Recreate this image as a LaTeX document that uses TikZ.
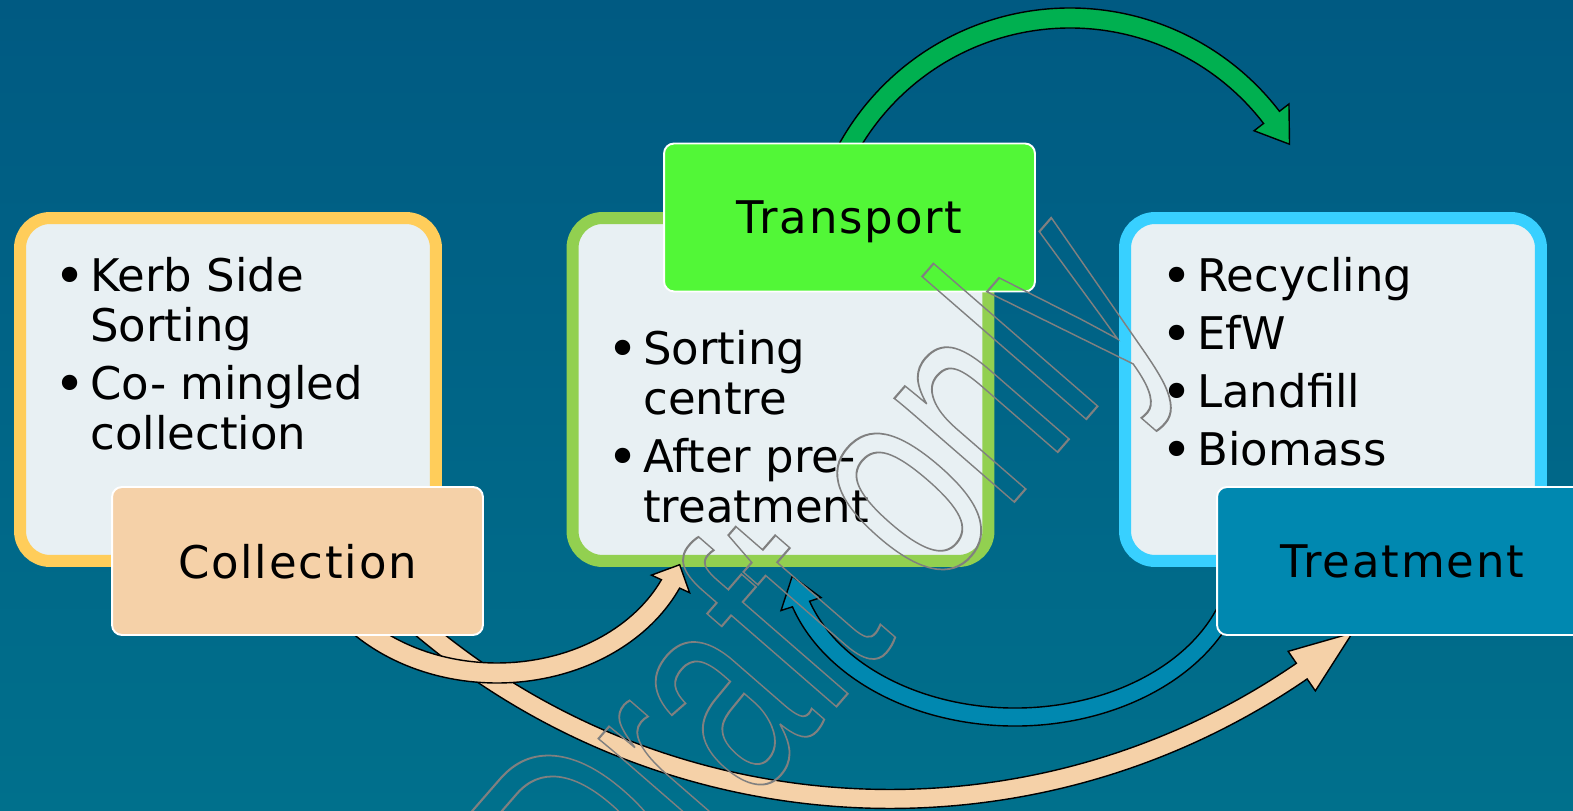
\documentclass[tikz,border=0pt]{standalone}
\usepackage{fontspec}
\setmainfont{DejaVu Sans}
\newfontfamily\tagfont[LetterSpace=4]{DejaVu Sans}
\newfontfamily\markfont{Liberation Sans}
\usetikzlibrary{positioning}

\definecolor{bgtop}{RGB}{0,90,130}
\definecolor{bgbottom}{RGB}{0,112,140}
\definecolor{panelfill}{RGB}{232,240,243}
\definecolor{collborder}{RGB}{255,205,90}
\definecolor{sortborder}{RGB}{146,208,80}
\definecolor{treatborder}{RGB}{56,208,255}
\definecolor{collfill}{RGB}{245,209,168}
\definecolor{transfill}{RGB}{82,247,55}
\definecolor{treatfill}{RGB}{0,136,176}
\definecolor{greenarrow}{RGB}{0,176,80}
\definecolor{markgray}{RGB}{128,128,128}

\newcommand{\bodysize}{\fontsize{25.6pt}{28.45pt}\selectfont}
\newcommand{\bl}{\makebox[0.56cm][l]{\hspace{-0.16cm}\raisebox{-1.6pt}{\fontsize{30pt}{30pt}\selectfont\textbullet}}}
\newcommand{\ind}{\hspace*{0.56cm}}
% style, centre, x radius, y radius, start, head base, tip, half width, head half width
\newcommand{\curvedarrow}[9]{%
	\begin{scope}[shift={(#2)}]
		\pgfmathsetmacro{\sxo}{(#3+#8)*cos(#5)}\pgfmathsetmacro{\syo}{(#4+#8)*sin(#5)}
		\pgfmathsetmacro{\bxo}{(#3+#9)*cos(#6)}\pgfmathsetmacro{\byo}{(#4+#9)*sin(#6)}
		\pgfmathsetmacro{\tipx}{#3*cos(#7)}\pgfmathsetmacro{\tipy}{#4*sin(#7)}
		\pgfmathsetmacro{\bxi}{(#3-#9)*cos(#6)}\pgfmathsetmacro{\byi}{(#4-#9)*sin(#6)}
		\pgfmathsetmacro{\nxi}{(#3-#8)*cos(#6)}\pgfmathsetmacro{\nyi}{(#4-#8)*sin(#6)}
		\pgfmathsetmacro{\rxo}{(#3+#8)*0.02}\pgfmathsetmacro{\ryo}{(#4+#8)*0.02}
		\pgfmathsetmacro{\rxi}{(#3-#8)*0.02}\pgfmathsetmacro{\ryi}{(#4-#8)*0.02}
		\filldraw[#1] (\sxo,\syo)
			arc[start angle=#5, end angle=#6, x radius=\rxo cm, y radius=\ryo cm]
			-- (\bxo,\byo) -- (\tipx,\tipy) -- (\bxi,\byi) -- (\nxi,\nyi)
			arc[start angle=#6, end angle=#5, x radius=\rxi cm, y radius=\ryi cm]
			-- cycle;
	\end{scope}}

\tikzset{
	panel/.style = {
		rectangle,
		rounded corners=0.6cm,
		fill=panelfill,
		line width=0.24cm,
		inner sep=0pt,
		minimum width=8.32cm,
		minimum height=6.86cm
	},
	tagbox/.style = {
		rectangle,
		rounded corners=0.2cm,
		draw=white,
		line width=1.1pt,
		inner sep=0pt,
		minimum width=7.42cm,
		minimum height=2.96cm,
		text depth=0pt,
		font=\tagfont\bodysize
	},
	bullets/.style = {
		anchor=base west,
		inner sep=0pt,
		font=\bodysize
	},
	arrow_body/.style = {
		draw=black,
		line width=0.8pt,
		line join=miter
	},
	arrow_peach/.style = {arrow_body, fill=collfill},
	arrow_blue/.style = {arrow_body, fill=treatfill},
	arrow_green/.style = {arrow_body, fill=greenarrow},
	watermark/.style = {
		anchor=base west,
		inner sep=0pt,
		rotate=49,
		xscale=0.66,
		text=markgray,
		font=\markfont\fontsize{170.7pt}{170.7pt}\selectfont
	}
}

\begin{document}
\begin{tikzpicture}[x=0.02cm, y=0.02cm]
\useasboundingbox (0,0) rectangle (1573,811);
\shade[top color=bgtop, bottom color=bgbottom] (0,0) rectangle (1573,811);

\node (collbox) [panel, draw=collborder] at (228,421.5) {};
\node (sortbox) [panel, draw=sortborder] at (780.5,421.5) {};
\node (treatbox) [panel, draw=treatborder] at (1333,421.5) {};

\node (colltext) [bullets] at (62,519) {\begin{tabular}[t]{@{}l@{}}
	\bl Kerb Side\\ \ind Sorting\\[0.16cm]
	\bl Co- mingled\\ \ind collection
\end{tabular}};
\node (sorttext) [bullets] at (615,446) {\begin{tabular}[t]{@{}l@{}}
	\bl Sorting\\ \ind centre\\[0.16cm]
	\bl After pre-\\ \ind treatment
\end{tabular}};
\node (treattext) [bullets] at (1169,519) {\begin{tabular}[t]{@{}l@{}}
	\bl Recycling\\[0.16cm]
	\bl EfW\\[0.16cm]
	\bl Landfill\\[0.16cm]
	\bl Biomass
\end{tabular}};

\coordinate (arc_short) at (497,291);
\coordinate (arc_long) at (890,739);
\coordinate (arc_back) at (1015,257.5);
\coordinate (arc_top) at (1070,539);
\curvedarrow{arrow_peach}{arc_long}{727}{727}{-133}{-55.5}{-50.5}{9.5}{24}
\curvedarrow{arrow_peach}{arc_short}{191}{153}{-138}{-24.7}{-17}{10}{21}
\curvedarrow{arrow_blue}{arc_back}{225}{163.5}{-18}{-162}{-172}{9}{21}
\curvedarrow{arrow_green}{arc_top}{254}{254}{152}{37.5}{30.2}{10}{22}

\node (colltag) [tagbox, fill=collfill] at (297.5,250) {Collection};
\node (transtag) [tagbox, fill=transfill] at (849.5,593.5) {Transport};
\node (treattag) [tagbox, fill=treatfill] at (1402.5,250) {Treatment};

\node (draftmark) [watermark] at (615.5,-149.7)
	{\special{pdf:literal direct 1 Tr 1.2 w}Draft only\special{pdf:literal direct 0 Tr}};
\end{tikzpicture}
\end{document}
